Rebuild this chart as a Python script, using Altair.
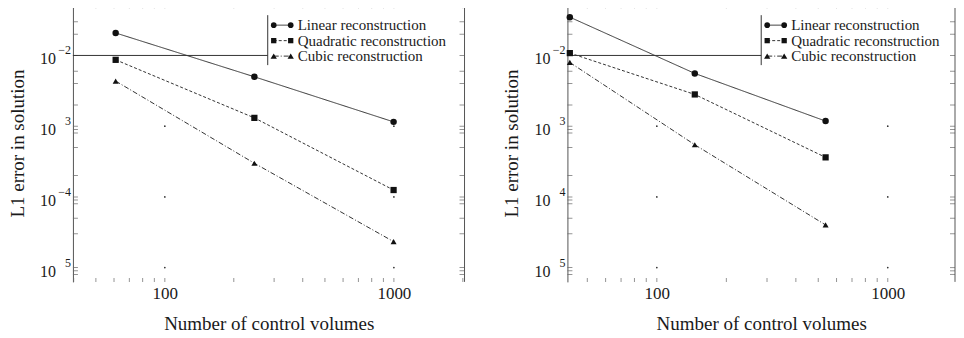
import altair as alt
import pandas as pd

SERIF = "Liberation Serif"
INK = "#1a1a1a"
FRAME = "#555555"

series = ["Linear reconstruction", "Quadratic reconstruction", "Cubic reconstruction"]

# left panel
left_cv = [61, 246, 997]
left_linear = [0.0208, 0.00499, 0.00115]
left_quadratic = [0.00867, 0.00131, 0.000125]
left_cubic = [0.00434, 0.000299, 2.33e-5]

# right panel
right_cv = [42, 146, 538]
right_linear = [0.0348, 0.00557, 0.00118]
right_quadratic = [0.0108, 0.00281, 0.000362]
right_cubic = [0.00796, 0.000546, 4.01e-5]

# axes
left_xdomain = [39.7, 2034]
right_xdomain = [41.0, 1955]
y_domain = [6.28e-6, 0.0531]
x_labels = [100, 1000]
y_decades = [1e-2, 1e-3, 1e-4, 1e-5]
y_base = ["10", "10", "10", "10"]
left_exp = ["\u22122", "3", "\u22124", "5"]
right_exp = ["\u22122", "3", "4", "5"]
x_minor = [40, 50, 60, 70, 80, 90, 100, 200, 300, 400, 500, 600, 700, 800, 900, 1000, 2000]
y_minor = [3e-2, 2e-2, 1e-2, 6e-3, 4e-3, 2e-3, 1e-3, 9e-4, 8e-4, 5e-4, 2e-4,
           1e-4, 9e-5, 8e-5, 5e-5, 3e-5, 1e-5, 9e-6, 8e-6]
grid_x = [100, 1000]
grid_y = [1e-3, 1e-4, 1e-5]
gridline_y = [1e-2]

dashes = [[1, 0], [3, 2], [5, 2, 1, 2]]
shapes = ["circle", "square", "triangle-up"]
marker_sizes = [42, 36, 52]
legend_marker_sizes = [32, 28, 40]

H = 278


def panel(cv, lin, quad, cub, xdom, W, exps, lx):
    xs = alt.Scale(type="log", domain=xdom, nice=False)
    ys = alt.Scale(type="log", domain=y_domain, nice=False)
    dash_scale = alt.Scale(domain=series, range=dashes)
    shape_scale = alt.Scale(domain=series, range=shapes)
    size_scale = alt.Scale(domain=series, range=marker_sizes)

    df = pd.DataFrame({
        "cv": cv * 3,
        "err": lin + quad + cub,
        "series": [s for s in series for _ in cv],
    })

    xaxis = alt.Axis(values=x_labels, format="d", ticks=False, domain=False, grid=False,
                     labelFont=SERIF, labelFontSize=17, labelColor=INK, labelPadding=4,
                     labelFlush=False, labelOverlap=False,
                     title="Number of control volumes", titleFont=SERIF, titleFontSize=19,
                     titleFontWeight="normal", titleColor=INK, titlePadding=13)
    yaxis = alt.Axis(labels=False, ticks=False, grid=False, domain=True,
                     domainColor=FRAME, domainWidth=1,
                     title="L1 error in solution", titleFont=SERIF, titleFontSize=19,
                     titleFontWeight="normal", titleColor=INK, titleX=-55.5, titleY=H / 2,
                     titleAngle=270, titleAlign="center", titleBaseline="middle")

    def X(field):
        return alt.X(field, scale=xs, axis=xaxis)

    def Y(field):
        return alt.Y(field, scale=ys, axis=yaxis)

    xm = pd.DataFrame({"v": x_minor})
    ym = pd.DataFrame({"v": y_minor})
    tick_kw = dict(color="#666666", thickness=1, clip=True)
    t_left = alt.Chart(ym).mark_tick(orient="horizontal", size=10, **tick_kw).encode(
        x=alt.value(0), y=Y("v:Q"))
    t_right = alt.Chart(ym).mark_tick(orient="horizontal", size=10, **tick_kw).encode(
        x=alt.value(W), y=Y("v:Q"))
    t_top = alt.Chart(xm).mark_tick(orient="vertical", size=8, **tick_kw).encode(
        y=alt.value(0), x=X("v:Q"))
    t_bot = alt.Chart(xm).mark_tick(orient="vertical", size=8, **tick_kw).encode(
        y=alt.value(H), x=X("v:Q"))

    frame_right = alt.Chart(pd.DataFrame({"v": [0]})).mark_rule(color=FRAME, strokeWidth=1).encode(
        x=alt.value(W), y=alt.value(0), y2=alt.value(H))

    gridline = alt.Chart(pd.DataFrame({"v": gridline_y})).mark_rule(color="#333333", strokeWidth=1).encode(
        y=Y("v:Q"), x=alt.value(0), x2=alt.value(lx))

    gd = pd.DataFrame([(gx, gy) for gx in grid_x for gy in grid_y], columns=["gx", "gy"])
    dots = alt.Chart(gd).mark_point(filled=True, size=3, color="#333333", opacity=1).encode(
        x=X("gx:Q"), y=Y("gy:Q"))

    lines = alt.Chart(df).mark_line(color="#333333", strokeWidth=1, clip=True).encode(
        x=X("cv:Q"),
        y=Y("err:Q"),
        strokeDash=alt.StrokeDash("series:N", scale=dash_scale, legend=None),
    )
    points = alt.Chart(df).mark_point(filled=True, color="#111111", opacity=1).encode(
        x=X("cv:Q"),
        y=Y("err:Q"),
        shape=alt.Shape("series:N", scale=shape_scale, legend=None),
        size=alt.Size("series:N", scale=size_scale, legend=None),
    )

    ylab = pd.DataFrame({"v": y_decades, "base": y_base, "exp": exps})
    ten = alt.Chart(ylab).mark_text(align="right", baseline="middle", dy=4, font=SERIF,
                                    fontSize=16, color=INK).encode(
        x=alt.value(-17), y=Y("v:Q"), text="base:N")
    sup = alt.Chart(ylab).mark_text(align="right", baseline="middle", dy=-5, font=SERIF,
                                    fontSize=12, color=INK).encode(
        x=alt.value(-2), y=Y("v:Q"), text="exp:N")

    layers = [t_left, t_right, t_top, t_bot, frame_right, gridline, dots, lines, points, ten, sup]

    # legend
    one = pd.DataFrame({"v": [0]})
    layers.append(alt.Chart(one).mark_rule(color="#333333", strokeWidth=1).encode(
        x=alt.value(lx), y=alt.value(11), y2=alt.value(61)))
    rows = [21, 36.5, 52]
    for i, name in enumerate(series):
        ld = pd.DataFrame({"label": [name]})
        layers.append(alt.Chart(ld).mark_rule(color="#333333", strokeWidth=1, strokeDash=dashes[i]).encode(
            x=alt.value(lx + 6), x2=alt.value(lx + 23), y=alt.value(rows[i])))
        for px in (lx + 6, lx + 23):
            layers.append(alt.Chart(ld).mark_point(filled=True, size=legend_marker_sizes[i],
                                                   color="#111111", opacity=1,
                                                   shape=shapes[i]).encode(
                x=alt.value(px), y=alt.value(rows[i])))
        layers.append(alt.Chart(ld).mark_text(align="left", baseline="middle", font=SERIF,
                                              fontSize=15, color=INK).encode(
            x=alt.value(lx + 30), y=alt.value(rows[i]), text="label:N"))

    return alt.layer(*layers).properties(width=W, height=H)


left = panel(left_cv, left_linear, left_quadratic, left_cubic, left_xdomain, 392, left_exp, 195)
right = panel(right_cv, right_linear, right_quadratic, right_cubic, right_xdomain, 388, right_exp, 194)

chart = alt.hconcat(left, right, spacing=37).properties(
    padding={"left": 0, "top": -5, "right": 0, "bottom": 0}
).configure_view(stroke=None)

chart.save("out.html", embed_options={"renderer": "svg", "actions": False})
